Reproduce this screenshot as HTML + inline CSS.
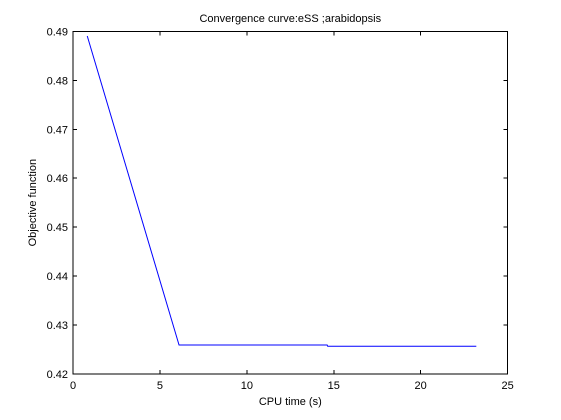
<!DOCTYPE html>
<html><head><meta charset="utf-8"><style>
body{margin:0;background:#fff;}
svg{display:block;font-family:"Liberation Sans",sans-serif;}
</style></head><body>
<svg id="c" width="561" height="420">
<rect x="0" y="0" width="561" height="420" fill="#fff"/>
</svg>
<script>
const xValues=[0.82,6.1,14.62,14.65,23.2];
const yValues=[0.48908,0.42589,0.42589,0.42563,0.42563];
const xTicks=[0,5,10,15,20,25];
const yTicks=[0.42,0.43,0.44,0.45,0.46,0.47,0.48,0.49];
const L=73,R=507.6,T=31.5,B=373.8;
const sx=v=>L+(v-0)/(25-0)*(R-L);
const sy=v=>B-(v-0.42)/(0.49-0.42)*(B-T);
const svg=document.getElementById('c');
const NS='http://www.w3.org/2000/svg';
function mk(t,a){const e=document.createElementNS(NS,t);for(const k in a)e.setAttribute(k,a[k]);svg.appendChild(e);return e;}
let box=mk('rect',{x:L,y:T,width:R-L,height:B-T,fill:'#fff',stroke:'#000','stroke-width':1,'shape-rendering':'crispEdges'});


xTicks.forEach(v=>{
  const x=sx(v);
  mk('line',{x1:x,x2:x,y1:B,y2:B-4,stroke:'#000','shape-rendering':'crispEdges'});
  mk('line',{x1:x,x2:x,y1:T,y2:T+4,stroke:'#000','shape-rendering':'crispEdges'});
  const t=mk('text',{x:x,y:B+15,'text-anchor':'middle','font-size':11});
  t.textContent=v;
  
  
});
yTicks.forEach(v=>{
  const y=sy(v);
  mk('line',{x1:L,x2:L+4,y1:y,y2:y,stroke:'#000','shape-rendering':'crispEdges'});
  mk('line',{x1:R,x2:R-4,y1:y,y2:y,stroke:'#000','shape-rendering':'crispEdges'});
  const t=mk('text',{x:L-5,y:y+4,'text-anchor':'end','font-size':11});
  t.textContent=v.toFixed(2);
  
  
});
const pts=xValues.map((v,i)=>sx(v)+','+sy(yValues[i])).join(' ');
const ln=mk('polyline',{points:pts,fill:'none',stroke:'#0000ff','stroke-width':1});


const tt=mk('text',{x:(L+R)/2,y:22,'text-anchor':'middle','font-size':11});
tt.textContent='Convergence curve:eSS ;arabidopsis';


const xt=mk('text',{x:(L+R)/2,y:405,'text-anchor':'middle','font-size':11});
xt.textContent='CPU time (s)';


const yt=mk('text',{x:0,y:0,'text-anchor':'middle','font-size':11,transform:'translate(36,'+((T+B)/2)+') rotate(-90)'});
yt.textContent='Objective function';


</script>
</body></html>
